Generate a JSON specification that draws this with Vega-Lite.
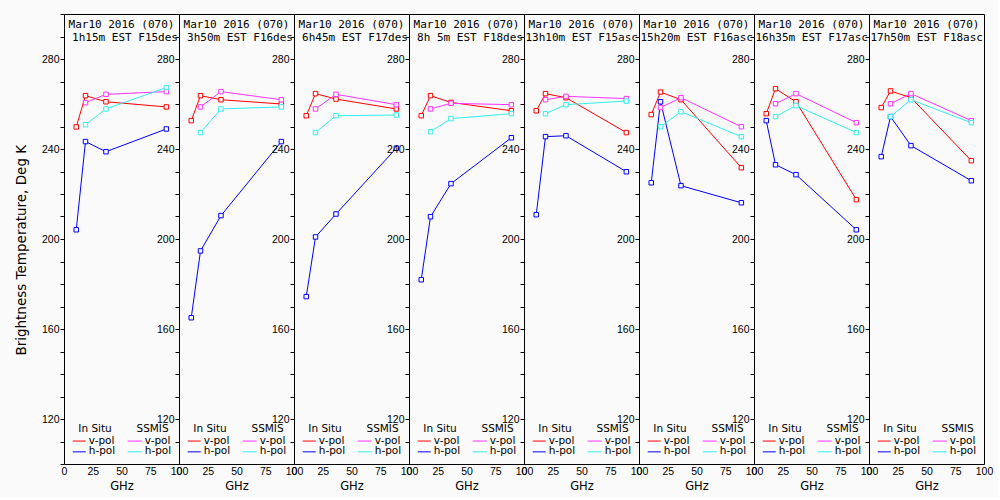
{
  "$schema": "https://vega.github.io/schema/vega-lite/v6.json",
  "background": "#fafafa",
  "padding": {"left": 15, "top": 8, "right": 5, "bottom": 5},
  "title": {"text": "Brightness Temperature, Deg K", "orient": "left", "anchor": "middle", "fontSize": 13.5, "fontWeight": "normal", "font": "DejaVu Sans", "color": "black", "offset": 12},
  "data": {"values": [
    {"p": 1, "s": "iv", "f": 10.65, "tb": 249.8}, {"p": 1, "s": "iv", "f": 18.7, "tb": 263.7}, {"p": 1, "s": "iv", "f": 36.5, "tb": 261.0}, {"p": 1, "s": "iv", "f": 89, "tb": 258.7},
    {"p": 1, "s": "ih", "f": 10.65, "tb": 204.1}, {"p": 1, "s": "ih", "f": 18.7, "tb": 243.3}, {"p": 1, "s": "ih", "f": 36.5, "tb": 238.8}, {"p": 1, "s": "ih", "f": 89, "tb": 248.9},
    {"p": 1, "s": "sv", "f": 18.7, "tb": 260.6}, {"p": 1, "s": "sv", "f": 36.5, "tb": 264.3}, {"p": 1, "s": "sv", "f": 89, "tb": 265.5},
    {"p": 1, "s": "sh", "f": 18.7, "tb": 250.8}, {"p": 1, "s": "sh", "f": 36.5, "tb": 257.8}, {"p": 1, "s": "sh", "f": 89, "tb": 267.3},
    {"p": 2, "s": "iv", "f": 10.65, "tb": 252.6}, {"p": 2, "s": "iv", "f": 18.7, "tb": 263.7}, {"p": 2, "s": "iv", "f": 36.5, "tb": 261.9}, {"p": 2, "s": "iv", "f": 89, "tb": 260.0},
    {"p": 2, "s": "ih", "f": 10.65, "tb": 165.0}, {"p": 2, "s": "ih", "f": 18.7, "tb": 194.7}, {"p": 2, "s": "ih", "f": 36.5, "tb": 210.4}, {"p": 2, "s": "ih", "f": 89, "tb": 243.3},
    {"p": 2, "s": "sv", "f": 18.7, "tb": 258.7}, {"p": 2, "s": "sv", "f": 36.5, "tb": 265.5}, {"p": 2, "s": "sv", "f": 89, "tb": 261.9},
    {"p": 2, "s": "sh", "f": 18.7, "tb": 247.3}, {"p": 2, "s": "sh", "f": 36.5, "tb": 257.8}, {"p": 2, "s": "sh", "f": 89, "tb": 258.7},
    {"p": 3, "s": "iv", "f": 10.65, "tb": 254.8}, {"p": 3, "s": "iv", "f": 18.7, "tb": 264.6}, {"p": 3, "s": "iv", "f": 36.5, "tb": 262.2}, {"p": 3, "s": "iv", "f": 89, "tb": 257.8},
    {"p": 3, "s": "ih", "f": 10.65, "tb": 174.4}, {"p": 3, "s": "ih", "f": 18.7, "tb": 200.9}, {"p": 3, "s": "ih", "f": 36.5, "tb": 211.1}, {"p": 3, "s": "ih", "f": 89, "tb": 240.4},
    {"p": 3, "s": "sv", "f": 18.7, "tb": 257.8}, {"p": 3, "s": "sv", "f": 36.5, "tb": 264.3}, {"p": 3, "s": "sv", "f": 89, "tb": 259.7},
    {"p": 3, "s": "sh", "f": 18.7, "tb": 247.3}, {"p": 3, "s": "sh", "f": 36.5, "tb": 254.8}, {"p": 3, "s": "sh", "f": 89, "tb": 255.1},
    {"p": 4, "s": "iv", "f": 10.65, "tb": 254.8}, {"p": 4, "s": "iv", "f": 18.7, "tb": 263.7}, {"p": 4, "s": "iv", "f": 36.5, "tb": 260.7}, {"p": 4, "s": "iv", "f": 89, "tb": 257.0},
    {"p": 4, "s": "ih", "f": 10.65, "tb": 181.9}, {"p": 4, "s": "ih", "f": 18.7, "tb": 209.9}, {"p": 4, "s": "ih", "f": 36.5, "tb": 224.6}, {"p": 4, "s": "ih", "f": 89, "tb": 245.0},
    {"p": 4, "s": "sv", "f": 18.7, "tb": 257.8}, {"p": 4, "s": "sv", "f": 36.5, "tb": 260.3}, {"p": 4, "s": "sv", "f": 89, "tb": 259.7},
    {"p": 4, "s": "sh", "f": 18.7, "tb": 247.7}, {"p": 4, "s": "sh", "f": 36.5, "tb": 253.5}, {"p": 4, "s": "sh", "f": 89, "tb": 255.7},
    {"p": 5, "s": "iv", "f": 10.65, "tb": 257.0}, {"p": 5, "s": "iv", "f": 18.7, "tb": 264.6}, {"p": 5, "s": "iv", "f": 36.5, "tb": 262.8}, {"p": 5, "s": "iv", "f": 89, "tb": 247.3},
    {"p": 5, "s": "ih", "f": 10.65, "tb": 210.8}, {"p": 5, "s": "ih", "f": 18.7, "tb": 245.5}, {"p": 5, "s": "ih", "f": 36.5, "tb": 245.9}, {"p": 5, "s": "ih", "f": 89, "tb": 229.9},
    {"p": 5, "s": "sv", "f": 18.7, "tb": 261.9}, {"p": 5, "s": "sv", "f": 36.5, "tb": 263.4}, {"p": 5, "s": "sv", "f": 89, "tb": 262.4},
    {"p": 5, "s": "sh", "f": 18.7, "tb": 255.7}, {"p": 5, "s": "sh", "f": 36.5, "tb": 259.7}, {"p": 5, "s": "sh", "f": 89, "tb": 261.3},
    {"p": 6, "s": "iv", "f": 10.65, "tb": 255.3}, {"p": 6, "s": "iv", "f": 18.7, "tb": 265.3}, {"p": 6, "s": "iv", "f": 36.5, "tb": 261.9}, {"p": 6, "s": "iv", "f": 89, "tb": 231.7},
    {"p": 6, "s": "ih", "f": 10.65, "tb": 225.0}, {"p": 6, "s": "ih", "f": 18.7, "tb": 261.0}, {"p": 6, "s": "ih", "f": 36.5, "tb": 223.7}, {"p": 6, "s": "ih", "f": 89, "tb": 216.1},
    {"p": 6, "s": "sv", "f": 18.7, "tb": 258.4}, {"p": 6, "s": "sv", "f": 36.5, "tb": 262.8}, {"p": 6, "s": "sv", "f": 89, "tb": 249.9},
    {"p": 6, "s": "sh", "f": 18.7, "tb": 249.9}, {"p": 6, "s": "sh", "f": 36.5, "tb": 256.6}, {"p": 6, "s": "sh", "f": 89, "tb": 245.5},
    {"p": 7, "s": "iv", "f": 10.65, "tb": 255.7}, {"p": 7, "s": "iv", "f": 18.7, "tb": 266.8}, {"p": 7, "s": "iv", "f": 36.5, "tb": 261.0}, {"p": 7, "s": "iv", "f": 89, "tb": 217.5},
    {"p": 7, "s": "ih", "f": 10.65, "tb": 252.6}, {"p": 7, "s": "ih", "f": 18.7, "tb": 233.0}, {"p": 7, "s": "ih", "f": 36.5, "tb": 228.6}, {"p": 7, "s": "ih", "f": 89, "tb": 204.1},
    {"p": 7, "s": "sv", "f": 18.7, "tb": 260.1}, {"p": 7, "s": "sv", "f": 36.5, "tb": 264.6}, {"p": 7, "s": "sv", "f": 89, "tb": 251.7},
    {"p": 7, "s": "sh", "f": 18.7, "tb": 254.4}, {"p": 7, "s": "sh", "f": 36.5, "tb": 259.3}, {"p": 7, "s": "sh", "f": 89, "tb": 247.3},
    {"p": 8, "s": "iv", "f": 10.65, "tb": 258.4}, {"p": 8, "s": "iv", "f": 18.7, "tb": 265.8}, {"p": 8, "s": "iv", "f": 36.5, "tb": 262.8}, {"p": 8, "s": "iv", "f": 89, "tb": 234.8},
    {"p": 8, "s": "ih", "f": 10.65, "tb": 236.6}, {"p": 8, "s": "ih", "f": 18.7, "tb": 254.4}, {"p": 8, "s": "ih", "f": 36.5, "tb": 241.5}, {"p": 8, "s": "ih", "f": 89, "tb": 225.9},
    {"p": 8, "s": "sv", "f": 18.7, "tb": 260.1}, {"p": 8, "s": "sv", "f": 36.5, "tb": 264.6}, {"p": 8, "s": "sv", "f": 89, "tb": 252.6},
    {"p": 8, "s": "sh", "f": 18.7, "tb": 254.4}, {"p": 8, "s": "sh", "f": 36.5, "tb": 261.9}, {"p": 8, "s": "sh", "f": 89, "tb": 251.7},
    {"p": 1, "t1": "Mar10 2016 (070)", "t2": "1h15m EST F15des"},
    {"p": 2, "t1": "Mar10 2016 (070)", "t2": "3h50m EST F16des"},
    {"p": 3, "t1": "Mar10 2016 (070)", "t2": "6h45m EST F17des"},
    {"p": 4, "t1": "Mar10 2016 (070)", "t2": "8h 5m EST F18des"},
    {"p": 5, "t1": "Mar10 2016 (070)", "t2": "13h10m EST F15asc"},
    {"p": 6, "t1": "Mar10 2016 (070)", "t2": "15h20m EST F16asc"},
    {"p": 7, "t1": "Mar10 2016 (070)", "t2": "16h35m EST F17asc"},
    {"p": 8, "t1": "Mar10 2016 (070)", "t2": "17h50m EST F18asc"}
  ]},
  "facet": {"column": {"field": "p", "type": "ordinal", "header": {"title": null, "labels": false}}},
  "spacing": 0,
  "bounds": "flush",
  "resolve": {"axis": {"y": "independent"}},
  "spec": {
    "width": 115,
    "height": 450,
    "layer": [
      {
        "transform": [{"filter": "isValid(datum.s)"}],
        "mark": {"type": "line", "strokeWidth": 1, "clip": true},
        "encoding": {
          "x": {"field": "f", "type": "quantitative", "title": "GHz", "scale": {"domain": [0, 100], "nice": false, "zero": false}},
          "y": {"field": "tb", "type": "quantitative", "title": null, "scale": {"domain": [100, 300], "nice": false, "zero": false}},
          "color": {"field": "s", "type": "nominal", "legend": null, "scale": {"domain": ["iv", "ih", "sv", "sh"], "range": ["#ff0000", "#0000ff", "#ff33ff", "#33eeee"]}},
          "order": {"field": "f", "type": "quantitative"}
        }
      },
      {
        "transform": [{"filter": "isValid(datum.s)"}],
        "mark": {"type": "point", "shape": "square", "size": 20, "filled": true, "fill": "#fafafa", "strokeWidth": 1, "opacity": 1},
        "encoding": {
          "x": {"field": "f", "type": "quantitative", "title": "GHz"},
          "y": {"field": "tb", "type": "quantitative", "title": null},
          "stroke": {"field": "s", "type": "nominal", "legend": null, "scale": {"domain": ["iv", "ih", "sv", "sh"], "range": ["#ff0000", "#0000ff", "#ff33ff", "#33eeee"]}}
        }
      },
      {
        "transform": [{"filter": "isValid(datum.t1)"}],
        "layer": [
          {"mark": {"type": "text", "align": "center", "baseline": "middle", "font": "DejaVu Sans Mono", "fontSize": 11, "color": "black", "clip": true},
           "encoding": {"x": {"datum": 50}, "y": {"datum": 295}, "text": {"field": "t1"}}},
          {"mark": {"type": "text", "align": "right", "baseline": "middle", "dx": -1, "font": "DejaVu Sans Mono", "fontSize": 11, "color": "black", "clip": true},
           "encoding": {"x": {"datum": 100}, "y": {"datum": 289.2}, "text": {"field": "t2"}}},
          {"mark": {"type": "text", "align": "center", "baseline": "middle", "font": "DejaVu Sans", "fontSize": 10.5, "color": "black"},
           "encoding": {"x": {"datum": 27}, "y": {"datum": 115.5}, "text": {"value": "In Situ"}}},
          {"mark": {"type": "text", "align": "center", "baseline": "middle", "font": "DejaVu Sans", "fontSize": 10.5, "color": "black"},
           "encoding": {"x": {"datum": 77}, "y": {"datum": 115.5}, "text": {"value": "SSMIS"}}},
          {"mark": {"type": "text", "align": "left", "baseline": "middle", "font": "DejaVu Sans", "fontSize": 10.5, "color": "black"},
           "encoding": {"x": {"datum": 21.5}, "y": {"datum": 110.4}, "text": {"value": "v-pol"}}},
          {"mark": {"type": "text", "align": "left", "baseline": "middle", "font": "DejaVu Sans", "fontSize": 10.5, "color": "black"},
           "encoding": {"x": {"datum": 21.5}, "y": {"datum": 105.6}, "text": {"value": "h-pol"}}},
          {"mark": {"type": "text", "align": "left", "baseline": "middle", "font": "DejaVu Sans", "fontSize": 10.5, "color": "black"},
           "encoding": {"x": {"datum": 70.2}, "y": {"datum": 110.4}, "text": {"value": "v-pol"}}},
          {"mark": {"type": "text", "align": "left", "baseline": "middle", "font": "DejaVu Sans", "fontSize": 10.5, "color": "black"},
           "encoding": {"x": {"datum": 70.2}, "y": {"datum": 105.6}, "text": {"value": "h-pol"}}},
          {"mark": {"type": "rule", "color": "#ff0000", "strokeWidth": 1},
           "encoding": {"x": {"datum": 7.6}, "x2": {"datum": 18.9}, "y": {"datum": 110.2}}},
          {"mark": {"type": "rule", "color": "#0000ff", "strokeWidth": 1},
           "encoding": {"x": {"datum": 7.6}, "x2": {"datum": 18.9}, "y": {"datum": 105.4}}},
          {"mark": {"type": "rule", "color": "#ff33ff", "strokeWidth": 1},
           "encoding": {"x": {"datum": 55.4}, "x2": {"datum": 67.6}, "y": {"datum": 110.2}}},
          {"mark": {"type": "rule", "color": "#33eeee", "strokeWidth": 1},
           "encoding": {"x": {"datum": 55.4}, "x2": {"datum": 67.6}, "y": {"datum": 105.4}}}
        ]
      }
    ]
  },
  "config": {
    "font": "DejaVu Sans",
    "view": {"stroke": "black", "strokeWidth": 1},
    "axisX": {"tickCount": 20, "labelExpr": "datum.value % 25 == 0 ? datum.label : ''", "ticks": false, "domain": false, "grid": false, "labelFlush": false, "labelOverlap": false, "labelPadding": 2, "labelFont": "Liberation Sans", "labelFontSize": 10.5, "labelColor": "black", "titleFont": "DejaVu Sans", "titleFontSize": 11.5, "titleFontWeight": "normal", "titleColor": "black", "titlePadding": 4},
    "axisY": {"tickCount": 20, "labelExpr": "datum.value >= 120 && datum.value <= 280 && datum.value % 40 == 0 ? datum.label : ''", "tickSize": 4, "tickColor": "black", "domain": false, "grid": false, "labelOverlap": false, "labelPadding": 1, "labelFont": "Liberation Sans", "labelFontSize": 10.5, "labelColor": "black"}
  }
}
